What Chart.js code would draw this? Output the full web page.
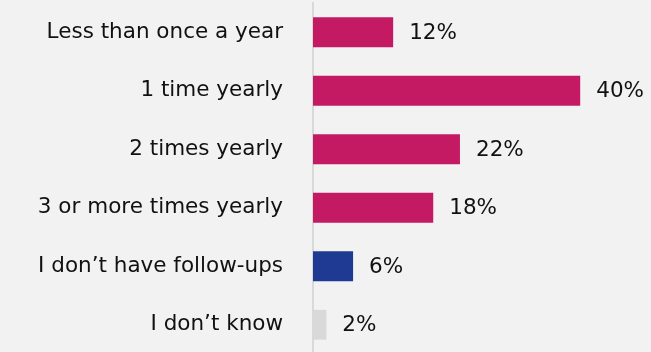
<!DOCTYPE html>
<html>
<head>
<meta charset="utf-8">
<script src="https://cdn.jsdelivr.net/npm/chart.js@4/dist/chart.umd.min.js"></script>
<style>
  html, body { margin: 0; padding: 0; background: #f2f2f2; overflow: hidden; }
  #wrap { position: relative; width: 651px; height: 354px; }
</style>
</head>
<body>
<div id="wrap"><canvas id="chart"></canvas></div>
<script>
const categories = [
  "Less than once a year",
  "1 time yearly",
  "2 times yearly",
  "3 or more times yearly",
  "I don\u2019t have follow-ups",
  "I don\u2019t know"
];
const shares = [12, 40, 22, 18, 6, 2];
const barColors = ["#c41a63", "#c41a63", "#c41a63", "#c41a63", "#1f3a93", "#d9d9d9"];

const FONT = "'DejaVu Sans', sans-serif";
const FONT_SIZE = 21.5;

// value labels to the right of each bar
const valueLabels = {
  id: "valueLabels",
  afterDatasetsDraw(chart) {
    const { ctx } = chart;
    const meta = chart.getDatasetMeta(0);
    ctx.save();
    ctx.font = FONT_SIZE + "px " + FONT;
    ctx.fillStyle = "#111111";
    ctx.textAlign = "left";
    ctx.textBaseline = "middle";
    meta.data.forEach((bar, i) => {
      ctx.fillText(shares[i] + "%", bar.x + 16, bar.y + 1);
    });
    ctx.restore();
  }
};

new Chart(document.getElementById("chart").getContext("2d"), {
  type: "bar",
  data: {
    labels: categories,
    datasets: [{
      data: shares,
      backgroundColor: barColors,
      borderWidth: 0,
      categoryPercentage: 1,
      barPercentage: 0.51
    }]
  },
  options: {
    indexAxis: "y",
    responsive: true,
    maintainAspectRatio: false,
    animation: false,
    layout: { padding: { top: 3, right: 4, bottom: 0, left: 0 } },
    plugins: { legend: { display: false }, tooltip: { enabled: false } },
    scales: {
      x: { display: false, min: 0, max: 50 },
      y: {
        // fixed axis position, and no extra top/bottom room for the labels
        afterFit: (s) => { s.width = 313; s.paddingTop = 0; s.paddingBottom = 0; },
        grid: { display: false, drawTicks: false },
        border: { display: true, color: "#d9d9d9", width: 2 },
        ticks: { color: "#111111", padding: 30, font: { family: FONT, size: FONT_SIZE } }
      }
    }
  },
  plugins: [valueLabels]
});
</script>
</body>
</html>
